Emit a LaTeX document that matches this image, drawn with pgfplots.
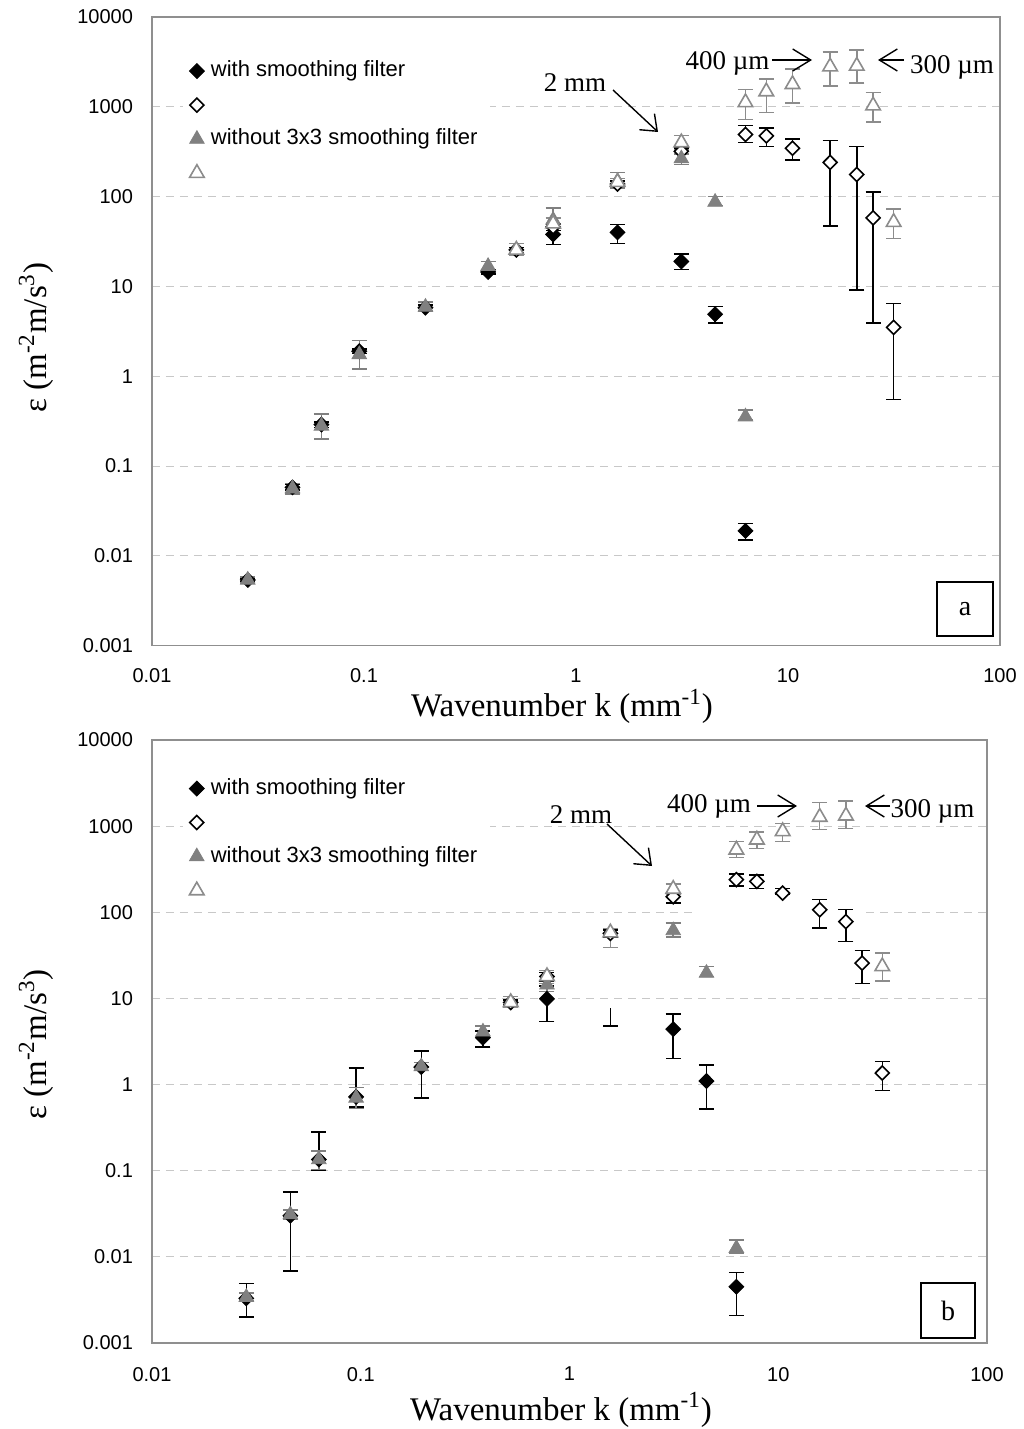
\documentclass[border=0pt]{standalone}
\usepackage{fontspec}
\setmainfont{Liberation Serif}
\setsansfont{Liberation Sans}
\usepackage{pgfplots}
\pgfplotsset{compat=1.18}
\usepackage{pgfplotstable}
\usetikzlibrary{arrows.meta}

\definecolor{mgray}{HTML}{808080}
\definecolor{ogray}{HTML}{8C8C8C}
\definecolor{axgray}{HTML}{8F8F8F}
\definecolor{gridgray}{HTML}{C8C8C8}

% ---------- panel a ----------
\pgfplotstableread{
k y hi lo
0.0283 0.0054 0.0057 0.0051
0.046 0.058 0.062 0.054
0.063 0.29 0.31 0.27
0.095 1.9 2.0 1.8
0.195 5.8 6.2 5.4
0.385 14.5 15.5 13.8
0.78 38 49 29.3
1.57 40 49 30
3.14 19 23 15.5
4.53 4.9 6.0 3.9
6.3 0.019 0.023 0.015
}\aFD
\pgfplotstableread{
k y hi lo
0.523 25.5 27 24
0.78 46 50 42
1.57 138 150 128
3.14 320 350 295
6.3 492 620 400
7.9 475 580 360
10.5 346 440 255
15.8 240 420 47
21.1 176 360 9.1
25.2 58 112 3.9
31.5 3.5 6.5 0.55
}\aOD
\pgfplotstableread{
k y hi lo
0.0283 0.0054 0.0058 0.0050
0.046 0.056 0.064 0.049
0.063 0.28 0.38 0.20
0.095 1.75 2.5 1.2
0.195 5.9 6.7 5.3
0.385 16.8 19 14.7
0.78 55 75 45
1.57 149 185 125
3.14 265 300 228
4.53 87 100 80
6.3 0.355 0.42 0.33
}\aFT
\pgfplotstableread{
k y hi lo
0.523 25.5 30 22
0.78 50 58 44
1.57 145 160 130
3.14 400 480 330
6.3 1120 1550 720
7.9 1480 2040 860
10.5 1780 2640 1100
15.8 2800 4100 1700
21.1 2850 4300 1850
25.2 1030 1440 680
31.5 52 73 34
}\aOT
% ---------- panel b ----------
\pgfplotstableread{
k y hi lo
0.0283 0.0033 0.0049 0.0020
0.046 0.030 0.057 0.0069
0.063 0.135 0.28 0.10
0.095 0.72 1.55 0.55
0.195 1.6 2.47 0.70
0.385 3.5 4.2 2.73
0.78 9.9 14 5.4
3.14 4.4 6.6 2.0
4.53 1.10 1.69 0.52
6.3 0.0045 0.0066 0.0021
}\bFD
\pgfplotstableread{
k y hi lo
0.523 9.0 9.6 8.4
0.78 18 20 16
1.57 57 62 52
3.14 152 165 129
6.3 239 280 203
7.9 228 270 190
10.5 167 190 160
15.8 107 141 66
21.1 78 108 46
25.2 25.7 36 15
31.5 1.36 1.85 0.85
}\bOD
\pgfplotstableread{
k y hi lo
0.0283 0.0034 0.0038 0.0031
0.046 0.031 0.035 0.027
0.063 0.135 0.17 0.104
0.095 0.70 0.93 0.53
0.195 1.62 1.8 1.45
0.385 4.1 4.8 3.6
0.78 14.4 21 12
3.14 61.5 75 52
4.53 19.7 23.4 18
6.3 0.0126 0.0157 0.011
}\bFT
\pgfplotstableread{
k y hi lo
0.523 9.0 10.5 7.8
0.78 18 21 15
1.57 58 65 39
3.14 186 214 160
6.3 532 660 430
7.9 695 860 550
10.5 870 1070 660
15.8 1275 1880 910
21.1 1320 1950 940
31.5 23.5 33.6 16
}\bOT

\pgfplotsset{
  sFD/.style={only marks, mark=diamond*, mark size=3.75pt,
    mark options={draw=black, fill=black, xscale=1.33},
    error bars/y dir=both, error bars/y explicit,
    error bars/error bar style={black, line width=0.75pt},
    error bars/error mark options={rotate=90, black, mark size=3.75pt, line width=0.75pt}},
  sOD/.style={only marks, mark=diamond*, mark size=3.5pt,
    mark options={draw=black, fill=white, line width=0.8pt, xscale=1.33},
    error bars/y dir=both, error bars/y explicit,
    error bars/error bar style={black, line width=0.75pt},
    error bars/error mark options={rotate=90, black, mark size=3.75pt, line width=0.75pt}},
  sFT/.style={only marks, mark=triangle*, mark size=4.2pt,
    mark options={draw=mgray, fill=mgray},
    error bars/y dir=both, error bars/y explicit,
    error bars/error bar style={mgray, line width=0.75pt},
    error bars/error mark options={rotate=90, mgray, mark size=3.75pt, line width=0.75pt}},
  sOT/.style={only marks, mark=triangle*, mark size=4.2pt,
    mark options={draw=ogray, fill=white, line width=0.8pt},
    error bars/y dir=both, error bars/y explicit,
    error bars/error bar style={ogray, line width=0.75pt},
    error bars/error mark options={rotate=90, ogray, mark size=3.75pt, line width=0.75pt}},
}

\begin{document}
\begin{tikzpicture}
\path[use as bounding box] (0pt,0pt) rectangle (511.5pt,-714.5pt);

% ================= panel a =================
\begin{axis}[
  scale only axis,
  xmode=log, ymode=log,
  xmin=0.01, xmax=100, ymin=0.001, ymax=10000,
  xtick={0.01,0.1,1,10,100},
  xticklabels={0.01,0.1,1,10,100},
  ytick={0.001,0.01,0.1,1,10,100,1000,10000},
  yticklabels={0.001,0.01,0.1,1,10,100,1000,10000},
  major tick length=0pt, minor tick length=0pt,
  axis line style={axgray, line width=0.6pt},
  ymajorgrids,
  major grid style={gridgray, dash pattern=on 4pt off 3pt, line width=0.5pt},
  ticklabel style={font=\sffamily\fontsize{10}{12}\selectfont},
  yticklabel style={xshift=-6pt},
  label style={font=\fontsize{16.5}{19}\selectfont},
  legend cell align=left,
  legend style={draw=none, fill=white, anchor=north west,
    font=\sffamily\fontsize{11}{13}\selectfont,
    nodes={text height=8pt, text depth=2.5pt, inner sep=3.25pt},
    at={(0.0366,0.948)}},
  at={(76pt,-322.85pt)}, anchor=south west,
  width=424pt, height=314.35pt,
  xticklabel style={yshift=-8pt},
  xlabel={Wavenumber k (mm\textsuperscript{-1})},
  ylabel={ε (m\textsuperscript{-2}m/s\textsuperscript{3})},
  xlabel style={at={(axis description cs:0.5,0)}, anchor=base, yshift=-35.6pt, xshift=-7pt},
  ylabel style={at={(axis description cs:-0.1242,0.49)}, anchor=base},
]
\addplot[sFD] table[x=k, y=y, y error plus expr=\thisrow{hi}-\thisrow{y}, y error minus expr=\thisrow{y}-\thisrow{lo}] {\aFD};
\addlegendentry{with smoothing filter}
\addplot[sOD] table[x=k, y=y, y error plus expr=\thisrow{hi}-\thisrow{y}, y error minus expr=\thisrow{y}-\thisrow{lo}] {\aOD};
\addlegendentry{}
\addplot[sFT] table[x=k, y=y, y error plus expr=\thisrow{hi}-\thisrow{y}, y error minus expr=\thisrow{y}-\thisrow{lo}] {\aFT};
\addlegendentry{without 3x3 smoothing filter}
\addplot[sOT] table[x=k, y=y, y error plus expr=\thisrow{hi}-\thisrow{y}, y error minus expr=\thisrow{y}-\thisrow{lo}] {\aOT};
\addlegendentry{}
\end{axis}

% annotations a
\node[font=\fontsize{13.5}{16}\selectfont] at (287.5pt,-41.5pt) {2 mm};
\draw[line width=0.7pt, -{Straight Barb[length=7pt,width=11pt]}] (306.5pt,-45pt) -- (329pt,-66pt);
\node[font=\fontsize{13.5}{16}\selectfont] at (363.75pt,-31.5pt) {400 µm};
\draw[line width=0.7pt, -{Straight Barb[length=9pt,width=11pt]}] (386pt,-30pt) -- (406pt,-30pt);
\node[font=\fontsize{13.5}{16}\selectfont] at (476pt,-33.5pt) {300 µm};
\draw[line width=0.7pt, -{Straight Barb[length=9pt,width=11pt]}] (452pt,-30pt) -- (439pt,-30pt);
\node[draw=black, line width=0.8pt, fill=white, minimum width=28pt, minimum height=27pt, inner sep=0pt,
  font=\fontsize{14}{16}\selectfont] at (482.5pt,-304.5pt) {a};

% ================= panel b =================
\begin{axis}[
  scale only axis,
  xmode=log, ymode=log,
  xmin=0.01, xmax=100, ymin=0.001, ymax=10000,
  xtick={0.01,0.1,1,10,100},
  xticklabels={0.01,0.1,1,10,100},
  ytick={0.001,0.01,0.1,1,10,100,1000,10000},
  yticklabels={0.001,0.01,0.1,1,10,100,1000,10000},
  major tick length=0pt, minor tick length=0pt,
  axis line style={axgray, line width=0.6pt},
  ymajorgrids,
  major grid style={gridgray, dash pattern=on 4pt off 3pt, line width=0.5pt},
  ticklabel style={font=\sffamily\fontsize{10}{12}\selectfont},
  yticklabel style={xshift=-6pt},
  label style={font=\fontsize{16.5}{19}\selectfont},
  legend cell align=left,
  legend style={draw=none, fill=white, anchor=north west,
    font=\sffamily\fontsize{11}{13}\selectfont,
    nodes={text height=8pt, text depth=2.5pt, inner sep=3.25pt},
    at={(0.037,0.955)}},
  at={(76pt,-671.5pt)}, anchor=south west,
  width=417.5pt, height=301.5pt,
  xticklabel style={yshift=-8.5pt},
  xlabel={Wavenumber k (mm\textsuperscript{-1})},
  ylabel={ε (m\textsuperscript{-2}m/s\textsuperscript{3})},
  xlabel style={at={(axis description cs:0.5,0)}, anchor=base, yshift=-38.5pt, xshift=-4.25pt},
  ylabel style={at={(axis description cs:-0.1261,0.495)}, anchor=base},
]
% white band that interrupts the 100 gridline, as in the original
\fill[white] (axis cs:3.9,88) rectangle (axis cs:26,113);
\addplot[sFD] table[x=k, y=y, y error plus expr=\thisrow{hi}-\thisrow{y}, y error minus expr=\thisrow{y}-\thisrow{lo}] {\bFD};
\addlegendentry{with smoothing filter}
\addplot[sOD] table[x=k, y=y, y error plus expr=\thisrow{hi}-\thisrow{y}, y error minus expr=\thisrow{y}-\thisrow{lo}] {\bOD};
\addlegendentry{}
\addplot[sFT] table[x=k, y=y, y error plus expr=\thisrow{hi}-\thisrow{y}, y error minus expr=\thisrow{y}-\thisrow{lo}] {\bFT};
\addlegendentry{without 3x3 smoothing filter}
\addplot[sOT] table[x=k, y=y, y error plus expr=\thisrow{hi}-\thisrow{y}, y error minus expr=\thisrow{y}-\thisrow{lo}] {\bOT};
\addlegendentry{}
% lone lower error bar without a visible marker at k = 1.57
\addplot[forget plot, only marks, mark=*, mark size=0.01pt,
  mark options={opacity=0, draw opacity=0, fill opacity=0},
  error bars/y dir=minus, error bars/y explicit,
  error bars/error bar style={black, line width=0.75pt, opacity=1},
  error bars/error mark options={rotate=90, black, mark size=3.75pt, line width=0.75pt, opacity=1}]
  coordinates {(1.57,7.7) -= (0,2.9)};
\end{axis}

% annotations b
\node[font=\fontsize{13.5}{16}\selectfont] at (290.5pt,-407.5pt) {2 mm};
\draw[line width=0.7pt, -{Straight Barb[length=7pt,width=11pt]}] (303.5pt,-412pt) -- (326pt,-433pt);
\node[font=\fontsize{13.5}{16}\selectfont] at (354.5pt,-403.25pt) {400 µm};
\draw[line width=0.7pt, -{Straight Barb[length=9pt,width=11pt]}] (378.5pt,-403pt) -- (398.5pt,-403pt);
\node[font=\fontsize{13.5}{16}\selectfont] at (466.25pt,-405.5pt) {300 µm};
\draw[line width=0.7pt, -{Straight Barb[length=9pt,width=11pt]}] (445pt,-403pt) -- (432.5pt,-403pt);
\node[draw=black, line width=0.8pt, fill=white, minimum width=27pt, minimum height=27.5pt, inner sep=0pt,
  font=\fontsize{14}{16}\selectfont] at (474pt,-655.25pt) {b};
\end{tikzpicture}
\end{document}
